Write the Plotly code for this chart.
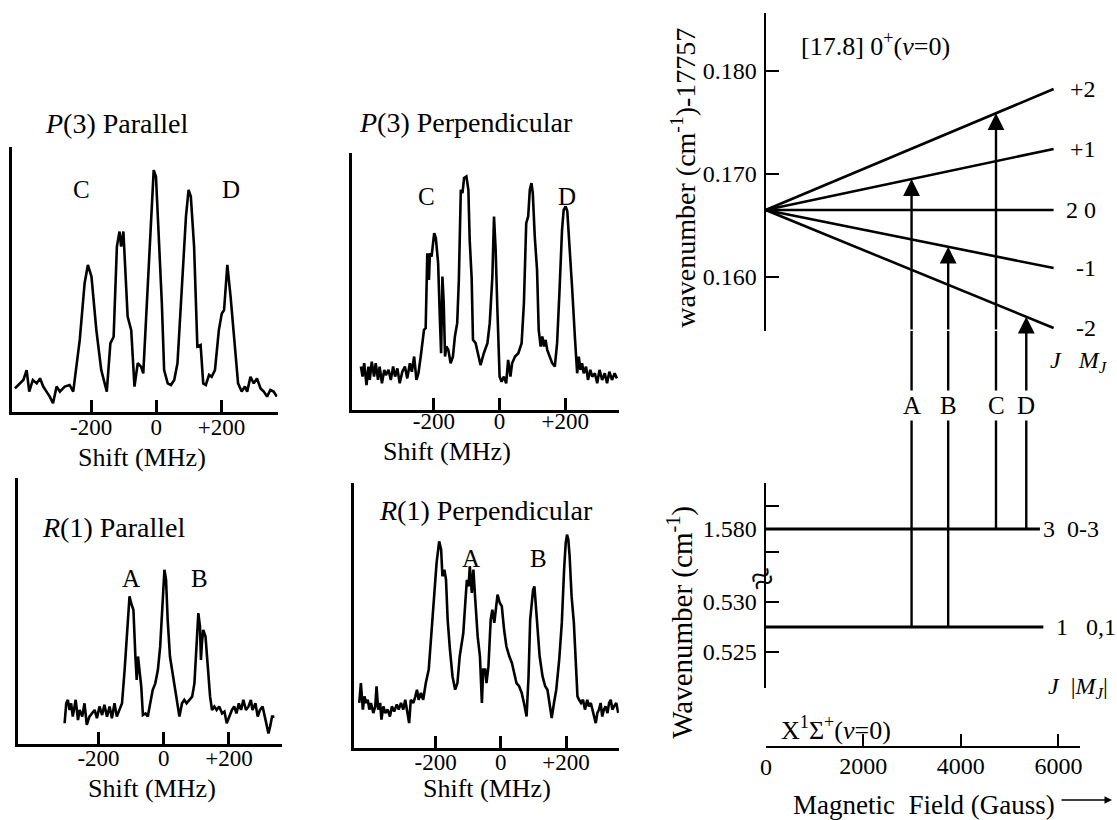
import plotly.graph_objects as go

# ---------------- data: spectra (Shift in MHz, intensity in arb. units 0-100) ----------------
p3_par_x = [-434, -418, -408, -398, -390, -379, -367, -357, -347, -337, -327, -317, -306, -296, -281, -266, -255,
            -235, -220, -210, -199, -184, -169, -152, -141, -131, -121, -113, -108, -101, -93, -88, -77, -67, -57,
            -47, -40, -32, -21, -13, -8, -1, 7, 17, 24, 35, 45, 55, 65, 78, 91, 99, 106, 116, 126, 136, 144, 152,
            162, 170, 180, 192, 201, 208, 218, 228, 238, 251, 262, 272, 279, 289, 299, 309, 320, 330, 340, 350,
            360, 370]
p3_par_y = [8.9, 10.8, 12.1, 15.8, 7.7, 12.1, 10.8, 12.7, 9.6, 7.7, 5.8, 3.3, 9.6, 7.7, 9.6, 10.2, 7.7,
            27.2, 48.6, 55.5, 51.1, 30.9, 15.8, 7.7, 25.9, 28.4, 62.4, 68.1, 62.4, 68.1, 51.1, 36.0, 30.9, 9.6, 18.4,
            17.1, 14.6, 33.5, 64.9, 83.8, 91.3, 88.8, 68.7, 41.0, 15.8, 10.8, 10.2, 12.1, 18.4, 46.0, 73.7, 83.8,
            81.3, 62.4, 24.7, 25.3, 10.8, 10.2, 14.0, 13.3, 15.8, 30.9, 37.2, 38.5, 55.5, 43.5, 28.4, 10.8, 7.7,
            9.6, 7.7, 13.3, 10.8, 12.7, 8.9, 7.7, 5.8, 8.3, 7.7, 5.8]

p3_perp_x = [-422, -417, -412, -405, -399, -395, -389, -382, -377, -370, -365, -358, -351, -346, -338, -331, -324,
             -318, -311, -304, -296, -288, -281, -273, -267, -260, -253, -247, -240, -235, -230, -225, -220, -215,
             -212, -207, -199, -194, -187, -182, -178, -174, -170, -166, -162, -156, -149, -142, -136, -129, -124,
             -118, -113, -108, -101, -95, -91, -85, -81, -73, -65, -58, -48, -37, -30, -22, -17, -12, -7, 0, 6, 13,
             20, 26, 33, 38, 47, 57, 67, 74, 81, 87, 92, 97, 101, 107, 114, 119, 125, 130, 135, 140, 145, 152, 160,
             168, 175, 182, 190, 195, 201, 206, 213, 221, 229, 236, 241, 246, 251, 256, 263, 269, 276, 282, 290,
             297, 304, 312, 320, 327, 334, 342, 350, 357]
p3_perp_y = [16.9, 13.0, 18.2, 9.7, 16.9, 11.7, 18.8, 13.0, 18.2, 11.7, 16.9, 10.4, 15.6, 13.6, 15.6, 11.7, 16.9,
             13.0, 16.2, 10.4, 14.9, 16.9, 12.3, 18.2, 14.9, 20.8, 11.7, 14.3, 20.8, 26.0, 31.2, 31.8, 61.0, 50.6,
             61.0, 59.7, 68.8, 66.9, 57.1, 36.4, 22.1, 51.9, 41.6, 20.8, 24.7, 23.4, 18.2, 20.8, 28.6, 33.8, 50.6,
             85.7, 84.4, 90.3, 90.9, 85.7, 66.2, 51.3, 27.3, 26.0, 20.8, 17.5, 22.1, 26.0, 33.8, 51.9, 75.3, 62.3,
             40.3, 13.0, 11.0, 13.0, 10.4, 19.5, 13.0, 18.2, 20.8, 22.1, 26.0, 41.6, 72.7, 75.3, 85.7, 88.3, 84.4,
             67.5, 54.5, 31.2, 24.7, 28.6, 24.7, 27.3, 23.4, 20.8, 18.2, 16.9, 26.0, 45.5, 70.1, 77.9, 79.2, 77.3,
             64.9, 46.8, 28.6, 14.3, 20.8, 15.6, 18.2, 14.3, 16.9, 11.7, 15.6, 13.0, 14.3, 10.4, 15.6, 11.7, 14.3,
             10.4, 14.9, 11.7, 14.3, 12.3]

r1_par_x = [-304, -299, -294, -289, -284, -279, -270, -263, -258, -250, -243, -236, -228, -219, -212, -205, -197,
            -189, -182, -174, -166, -159, -151, -144, -136, -128, -120, -113, -105, -100, -93, -87, -83, -79, -74,
            -69, -64, -56, -49, -42, -34, -26, -18, -11, -3, 2, 7, 12, 19, 28, 36, 43, 48, 56, 63, 70, 79, 87, 94,
            101, 106, 111, 114, 117, 121, 128, 135, 142, 148, 155, 162, 170, 179, 186, 193, 201, 209, 216, 223,
            230, 237, 244, 252, 260, 267, 272, 281, 288, 295, 303, 310, 316, 321, 326, 332, 339]
r1_par_y = [7.8, 15.3, 16.6, 12.8, 15.3, 10.3, 16.6, 9.0, 12.8, 10.3, 15.3, 7.2, 10.3, 11.5, 12.8, 9.7, 14.1,
            10.9, 14.7, 10.3, 14.1, 9.7, 15.3, 10.3, 12.8, 15.3, 27.9, 42.9, 55.5, 52.9, 50.4, 32.9, 24.1, 32.9,
            27.9, 21.6, 10.9, 11.5, 10.3, 15.3, 20.3, 22.8, 27.9, 36.6, 52.9, 65.5, 61.7, 46.7, 32.9, 25.3, 20.3,
            12.8, 10.3, 15.3, 16.6, 15.3, 16.6, 17.8, 22.8, 36.6, 49.2, 44.2, 31.6, 37.9, 42.9, 40.4, 27.9, 17.8,
            12.8, 14.1, 12.8, 14.1, 11.5, 12.2, 7.8, 10.3, 12.8, 14.1, 11.5, 15.3, 12.8, 16.6, 12.8, 14.1, 16.6,
            12.8, 15.3, 10.3, 12.8, 14.1, 10.3, 7.8, 4.0, 6.5, 10.3, 10.3]

r1_perp_x = [-434, -429, -423, -418, -413, -408, -403, -398, -391, -385, -381, -376, -370, -366, -360, -354, -347,
             -340, -334, -327, -319, -313, -306, -299, -293, -286, -281, -276, -268, -262, -257, -252, -245, -238,
             -230, -221, -214, -204, -197, -189, -183, -179, -173, -168, -163, -156, -148, -140, -133, -126, -119,
             -115, -109, -104, -99, -95, -89, -84, -79, -71, -64, -58, -54, -48, -44, -38, -31, -26, -20, -15, -10,
             -3, 3, 10, 17, 26, 34, 41, 48, 56, 64, 71, 79, 85, 90, 95, 99, 103, 107, 113, 119, 128, 136, 143, 150,
             156, 163, 170, 179, 187, 194, 199, 203, 207, 211, 217, 224, 230, 235, 240, 246, 252, 258, 265, 270,
             276, 281, 286, 291, 296, 301, 306, 311, 316, 321, 327, 332, 337, 342, 347, 354, 360]
r1_perp_y = [17.0, 24.5, 14.5, 19.5, 17.0, 18.2, 14.5, 17.0, 13.2, 15.7, 23.3, 14.5, 17.0, 10.7, 15.7, 13.2, 14.5,
             11.9, 15.7, 13.8, 16.4, 14.5, 17.0, 14.5, 18.2, 11.9, 9.4, 18.2, 17.0, 19.5, 22.0, 18.2, 20.8, 18.2,
             24.5, 29.6, 42.1, 57.2, 69.8, 78.0, 74.8, 64.8, 67.3, 63.5, 48.4, 37.1, 27.0, 22.0, 24.5, 34.6, 39.6,
             43.4, 54.7, 63.5, 61.0, 68.6, 58.5, 67.3, 57.2, 42.1, 34.6, 17.0, 29.6, 29.6, 24.5, 30.8, 48.4, 52.2,
             47.2, 53.5, 57.9, 54.7, 53.5, 44.7, 38.4, 34.6, 32.1, 28.3, 24.5, 23.3, 20.8, 17.0, 11.9, 27.0, 48.4,
             54.7, 59.7, 61.0, 54.7, 44.7, 34.6, 27.0, 23.3, 22.0, 17.0, 11.3, 17.0, 22.0, 33.3, 47.2, 67.3, 77.4,
             80.5, 78.6, 72.3, 57.2, 47.2, 34.6, 19.5, 18.2, 17.0, 18.2, 14.5, 18.2, 15.7, 17.0, 14.5, 11.9, 9.4,
             13.2, 14.5, 17.0, 11.9, 14.5, 15.7, 13.2, 17.0, 18.2, 14.5, 15.7, 17.0, 13.2]

shift_ticks = [-200, 0, 200]
shift_tick_text = ["-200", "0", "+200"]

panel_titles = ["<i>P</i>(3) Parallel", "<i>P</i>(3) Perpendicular",
                "<i>R</i>(1) Parallel", "<i>R</i>(1) Perpendicular"]
peak_labels = [[("C", -229, 83.8), ("D", 229, 83.8)],
               [("C", -223, 82.9), ("D", 204, 82.9)],
               [("A", -99, 62.4), ("B", 109, 62.4)],
               [("A", -91, 71.7), ("B", 117, 71.7)]]

# ---------------- data: Zeeman diagram ----------------
field_ticks = [2000, 4000, 6000]
upper_M = ["+2", "+1", "0", "-1", "-2"]
upper_E0 = 0.1665                    # zero-field upper level, cm-1 (-17757)
upper_field_end = 5900               # Gauss
upper_E_end = [0.17825, 0.17243, 0.1665, 0.16087, 0.15505]
upper_ticks = [0.160, 0.170, 0.180]

ground_J3 = 1.580
ground_J3_end = 5620
ground_J1 = 0.5275
ground_J1_end = 5690
ground_ticks_hi = [1.5775, 1.580, 1.5825]
ground_ticks_lo = [0.525, 0.530]

trans_names = ["A", "B", "C", "D"]
trans_field = [2990, 3740, 4720, 5340]
trans_upper_M = ["+1", "-1", "+2", "-2"]
trans_lower_J = [1, 1, 3, 3]

# ---------------- layout helpers ----------------
W, H = 1117, 820
FONT = "Liberation Serif, Times New Roman, serif"
BLACK = "black"


def fx(p):
    return p / W


def fy(p):
    return 1 - p / H


def note(**kw):
    d = dict(showarrow=False, xanchor="center", yanchor="middle")
    d.update(kw)
    return d


def f(size):
    return dict(family=FONT, size=size, color=BLACK)


fig = go.Figure()

panels = [
    dict(xd=(12, 278), yd=(147, 412), xr=(-443, 372), x=p3_par_x, y=p3_par_y,
         title=(117, 123), xtitle=(142, 457), standoff=-7),
    dict(xd=(353, 620), yd=(153, 410), xr=(-448, 363), x=p3_perp_x, y=p3_perp_y,
         title=(467, 122), xtitle=(448, 451), standoff=-11),
    dict(xd=(18, 283), yd=(478, 744), xr=(-447, 364), x=r1_par_x, y=r1_par_y,
         title=(114, 527), xtitle=(152, 788), standoff=-8),
    dict(xd=(355, 620), yd=(483, 748), xr=(-449, 362), x=r1_perp_x, y=r1_perp_y,
         title=(487, 510), xtitle=(488, 788), standoff=-8),
]

annotations = []
layout_axes = {}
for i, p in enumerate(panels):
    n = i + 1
    xa = "x" if n == 1 else f"x{n}"
    ya = "y" if n == 1 else f"y{n}"
    fig.add_trace(go.Scatter(x=p["x"], y=p["y"], mode="lines", xaxis=xa, yaxis=ya,
                             line=dict(color=BLACK, width=2.6), showlegend=False, hoverinfo="skip"))
    layout_axes["xaxis" if n == 1 else f"xaxis{n}"] = dict(
        domain=[fx(p["xd"][0]), fx(p["xd"][1])], range=list(p["xr"]), anchor=ya,
        showline=True, linecolor=BLACK, linewidth=2.5, ticks="inside", ticklen=12, tickwidth=2.5,
        tickcolor=BLACK, tickvals=shift_ticks, ticktext=shift_tick_text, ticklabelstandoff=p["standoff"],
        tickfont=f(23), showgrid=False, zeroline=False)
    layout_axes["yaxis" if n == 1 else f"yaxis{n}"] = dict(
        domain=[fy(p["yd"][1]), fy(p["yd"][0])], range=[0, 100], anchor=xa,
        showline=True, linecolor=BLACK, linewidth=2.5, ticks="", showticklabels=False,
        showgrid=False, zeroline=False)
    annotations.append(note(text=panel_titles[i], x=fx(p["title"][0]), y=fy(p["title"][1]),
                            xref="paper", yref="paper", font=f(28)))
    annotations.append(note(text="Shift (MHz)", x=fx(p["xtitle"][0]), y=fy(p["xtitle"][1]),
                            xref="paper", yref="paper", font=f(26)))
    for (lab, lx, ly) in peak_labels[i]:
        annotations.append(note(text=lab, x=lx, y=ly, xref=xa, yref=ya, font=f(25)))

# ---------------- right-hand Zeeman diagram ----------------
# shared field axis x5; y5 upper state, y6 connector gap, y7 ground J=3, y8 ground J=1
XD = (767, 1082)
x5_range = [0, 6442]
y5_range = [0.154757, 0.18563]
y6_range = [0, 1]
y7_range = [1.574674, 1.5850]
y8_range = [0.5214, 0.5324]

layout_axes["xaxis5"] = dict(domain=[fx(XD[0]), fx(XD[1])], range=x5_range, anchor="free", position=fy(747),
                             showline=True, linecolor=BLACK, linewidth=2, ticks="inside", ticklen=12,
                             tickwidth=2, tickcolor=BLACK, tickvals=field_ticks,
                             ticktext=[str(v) for v in field_ticks], ticklabelstandoff=-3,
                             tickfont=f(24), showgrid=False, zeroline=False)
common_y = dict(anchor="x5", showline=True, linecolor=BLACK, linewidth=2, ticks="inside", ticklen=13,
                tickwidth=2, tickcolor=BLACK, tickfont=f(24),
                ticklabelstandoff=2, showgrid=False, zeroline=False)
layout_axes["yaxis5"] = dict(common_y, domain=[fy(331), fy(13)], range=y5_range, tickvals=upper_ticks,
                             ticktext=[f"{v:.3f}" for v in upper_ticks])
layout_axes["yaxis6"] = dict(domain=[fy(483), fy(331)], range=y6_range, anchor="x5", visible=False)
layout_axes["yaxis7"] = dict(common_y, domain=[fy(578), fy(483)], range=y7_range, tickvals=ground_ticks_hi,
                             ticktext=["", f"{ground_J3:.3f}", ""])
layout_axes["yaxis8"] = dict(common_y, domain=[fy(688), fy(578)], range=y8_range, tickvals=ground_ticks_lo,
                             ticktext=[f"{v:.3f}" for v in ground_ticks_lo])

LW = 2.6
# upper-state Zeeman lines
for e_end in upper_E_end:
    fig.add_trace(go.Scatter(x=[0, upper_field_end], y=[upper_E0, e_end], mode="lines", xaxis="x5", yaxis="y5",
                             line=dict(color=BLACK, width=LW), showlegend=False, hoverinfo="skip"))
# ground levels
fig.add_trace(go.Scatter(x=[0, ground_J3_end], y=[ground_J3, ground_J3], mode="lines", xaxis="x5", yaxis="y7",
                         line=dict(color=BLACK, width=3), showlegend=False, hoverinfo="skip"))
fig.add_trace(go.Scatter(x=[0, ground_J1_end], y=[ground_J1, ground_J1], mode="lines", xaxis="x5", yaxis="y8",
                         line=dict(color=BLACK, width=3), showlegend=False, hoverinfo="skip"))


def upper_energy(M, B):
    k = upper_M.index(M)
    return upper_E0 + (upper_E_end[k] - upper_E0) * B / upper_field_end


# transition arrows, drawn piecewise through each panel of the diagram
gx, gy6, gx7, gy7, gx8, gy8 = [], [], [], [], [], []
for name, B, M, J in zip(trans_names, trans_field, trans_upper_M, trans_lower_J):
    tip = upper_energy(M, B)
    annotations.append(dict(x=B, y=tip, ax=B, ay=y5_range[0], xref="x5", yref="y5", axref="x5", ayref="y5",
                            text="", showarrow=True, arrowhead=2, arrowsize=1.4, arrowwidth=2.4,
                            arrowcolor=BLACK, standoff=0))
    gx += [B, B, None]
    gy6 += [y6_range[0], y6_range[1], None]
    gx7 += [B, B, None]
    gy7 += [(y7_range[0] if J == 1 else ground_J3), y7_range[1], None]
    if J == 1:
        gx8 += [B, B, None]
        gy8 += [ground_J1, y8_range[1], None]
    annotations.append(note(text=name, x=B, y=fy(405), xref="x5", yref="paper",
                            bgcolor="white", font=f(25)))
for xs, ys, ya in [(gx, gy6, "y6"), (gx7, gy7, "y7"), (gx8, gy8, "y8")]:
    fig.add_trace(go.Scatter(x=xs, y=ys, mode="lines", xaxis="x5", yaxis=ya, connectgaps=False,
                             line=dict(color=BLACK, width=2.4), showlegend=False, hoverinfo="skip"))

# level labels
lab_font = f(24)
for M, e_end in zip(upper_M, upper_E_end):
    txt = "2 0" if M == "0" else M
    annotations.append(note(text=txt, x=fx(1100), y=e_end, xref="paper", yref="y5", xanchor="right",
                            font=lab_font))
annotations.append(note(text="<i>J</i>&nbsp;&nbsp;&nbsp;<i>M<sub>J</sub></i>", x=fx(1112), y=fy(362),
                        xref="paper", yref="paper", xanchor="right", font=lab_font))
annotations.append(note(text="3&nbsp;&nbsp;0-3", x=fx(1043), y=ground_J3, xref="paper", yref="y7",
                        xanchor="left", font=lab_font))
annotations.append(note(text="1&nbsp;&nbsp;&nbsp;0,1", x=fx(1056), y=ground_J1, xref="paper", yref="y8",
                        xanchor="left", font=lab_font))
annotations.append(note(text="<i>J</i>&nbsp;&nbsp;|<i>M<sub>J</sub></i>|", x=fx(1112), y=fy(688),
                        xref="paper", yref="paper", xanchor="right", font=lab_font))
annotations.append(note(text="0", x=0, y=fy(767), xref="x5", yref="paper", font=f(24)))

# titles of the diagram
annotations.append(note(text="[17.8] 0<sup>+</sup>(<i>v</i>=0)", x=fx(877), y=fy(44), xref="paper",
                        yref="paper", font=f(26)))
annotations.append(note(text="X<sup>1</sup>Σ<sup>+</sup>(<i>v</i>=0)", x=fx(837), y=fy(728), xref="paper",
                        yref="paper", font=f(26)))
annotations.append(note(text="wavenumber (cm<sup>-1</sup>)-17757", x=fx(685), y=fy(178), xref="paper",
                        yref="paper", textangle=-90, font=f(28)))
annotations.append(note(text="Wavenumber (cm<sup>-1</sup>)", x=fx(681), y=fy(622), xref="paper",
                        yref="paper", textangle=-90, font=f(29)))
annotations.append(note(text="Magnetic&nbsp; Field (Gauss)", x=fx(926), y=fy(805), xref="paper",
                        yref="paper", font=f(27)))
annotations.append(dict(text="", x=fx(1114), y=fy(800), xref="paper", yref="paper", ax=-52, ay=0,
                        showarrow=True, arrowhead=2, arrowsize=1, arrowwidth=1.5, arrowcolor=BLACK))
# axis break mark
annotations.append(note(text="≈", x=fx(763), y=fy(578), xref="paper", yref="paper",
                        textangle=-25, font=f(40)))

fig.update_layout(width=W, height=H, margin=dict(l=0, r=0, t=0, b=0), paper_bgcolor="white",
                  plot_bgcolor="rgba(0,0,0,0)", showlegend=False, annotations=annotations,
                  font=dict(family=FONT, color=BLACK), **layout_axes)

fig.write_html("out.html", config={"displayModeBar": False})

# remove the browser's default page margin so the figure sits at the window's top-left corner
with open("out.html", encoding="utf-8") as fh:
    html = fh.read()
html = html.replace("<head>", "<head><style>html,body{margin:0;padding:0;}</style>", 1)
with open("out.html", "w", encoding="utf-8") as fh:
    fh.write(html)
